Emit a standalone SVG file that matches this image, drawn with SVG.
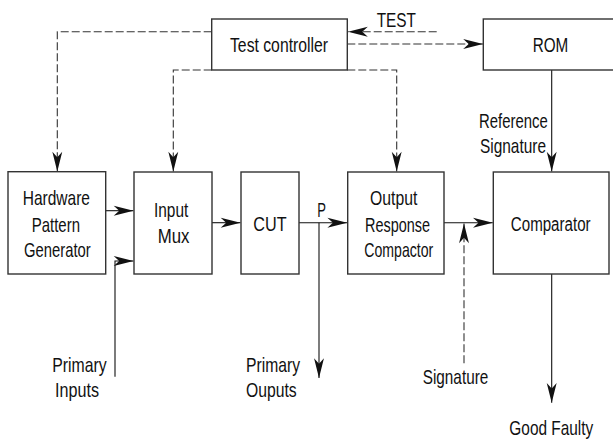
<svg xmlns="http://www.w3.org/2000/svg" width="613" height="439" viewBox="0 0 613 439">
<style>
  .box { fill: #fff; stroke: #333; stroke-width: 1.4; }
  .t { font-family: "Liberation Sans", Arial, sans-serif; font-size: 21px; fill: #111; }
  .m { text-anchor: middle; }
  .ln { fill: none; stroke: #111; stroke-width: 1.1; }
  .dl { fill: none; stroke: #333; stroke-width: 1.1; stroke-dasharray: 8 3; }
</style>
<defs>
  <marker id="ah" markerUnits="userSpaceOnUse" markerWidth="22" markerHeight="12" viewBox="-19 -5 20 10" refX="0" refY="0" orient="auto">
    <path d="M0,0 L-18,-4.5 L-13,0 L-18,4.5 Z" fill="#111"/>
  </marker>
</defs>
<rect width="613" height="439" fill="#fff"/>

<g id="connectors">
  <path class="dl" d="M436.7,31.7 H348" marker-end="url(#ah)"/>
  <path class="dl" d="M347.3,44 H483" marker-end="url(#ah)"/>
  <path class="dl" d="M211.7,31.7 H57.3 V171.5" marker-end="url(#ah)"/>
  <path class="dl" d="M211.7,70 H173.3 V171.5" marker-end="url(#ah)"/>
  <path class="dl" d="M347.3,70 H396.7 V171.5" marker-end="url(#ah)"/>
  <path class="ln" d="M105.7,210.7 H133.5" marker-end="url(#ah)"/>
  <path class="ln" d="M115,376.7 V261 H133.5" marker-end="url(#ah)"/>
  <path class="ln" d="M212,222.7 H240.5" marker-end="url(#ah)"/>
  <path class="ln" d="M299,222.7 H347.2" marker-end="url(#ah)"/>
  <path class="ln" d="M319,222.7 V378" marker-end="url(#ah)"/>
  <path class="ln" d="M444,222.7 H492.8" marker-end="url(#ah)"/>
  <path class="dl" d="M464,363.3 V223.5" marker-end="url(#ah)"/>
  <path class="ln" d="M551.7,70 V171.5" marker-end="url(#ah)"/>
  <path class="ln" d="M551.7,274 V402.7" marker-end="url(#ah)"/>
</g>

<g id="test-controller">
  <rect class="box" x="211.7" y="19" width="135.6" height="51"/>
  <text class="t" x="230" y="51.7" textLength="98" lengthAdjust="spacingAndGlyphs">Test controller</text>
</g>
<g id="test-label">
  <text class="t" x="376.7" y="26.7" textLength="39.3" lengthAdjust="spacingAndGlyphs">TEST</text>
</g>
<g id="rom">
  <rect class="box" x="483.3" y="19" width="140" height="51"/>
  <text class="t" x="532.7" y="51.7" textLength="35.6" lengthAdjust="spacingAndGlyphs">ROM</text>
</g>
<g id="reference-signature-label">
  <text class="t" x="479" y="128" textLength="68.7" lengthAdjust="spacingAndGlyphs">Reference</text>
  <text class="t" x="480" y="153" textLength="66" lengthAdjust="spacingAndGlyphs">Signature</text>
</g>
<g id="hardware-pattern-generator">
  <rect class="box" x="8" y="171.7" width="97.7" height="102.3"/>
  <text class="t" x="22.7" y="205" textLength="67.3" lengthAdjust="spacingAndGlyphs">Hardware</text>
  <text class="t" x="31.7" y="231.7" textLength="48.3" lengthAdjust="spacingAndGlyphs">Pattern</text>
  <text class="t" x="24" y="256.7" textLength="66.7" lengthAdjust="spacingAndGlyphs">Generator</text>
</g>
<g id="input-mux">
  <rect class="box" x="134" y="172" width="78" height="102"/>
  <text class="t" x="154" y="216.7" textLength="34.3" lengthAdjust="spacingAndGlyphs">Input</text>
  <text class="t" x="157.7" y="243.3" textLength="31.7" lengthAdjust="spacingAndGlyphs">Mux</text>
</g>
<g id="cut">
  <rect class="box" x="241" y="172" width="58" height="102"/>
  <text class="t" x="253.3" y="231" textLength="33.3" lengthAdjust="spacingAndGlyphs">CUT</text>
</g>
<g id="p-label">
  <text class="t" x="317.3" y="216.7" textLength="8.7" lengthAdjust="spacingAndGlyphs">P</text>
</g>
<g id="output-response-compactor">
  <rect class="box" x="347.7" y="172" width="96.3" height="102"/>
  <text class="t" x="370" y="205" textLength="47.3" lengthAdjust="spacingAndGlyphs">Output</text>
  <text class="t" x="365" y="231.7" textLength="65" lengthAdjust="spacingAndGlyphs">Response</text>
  <text class="t" x="364.3" y="256.7" textLength="69" lengthAdjust="spacingAndGlyphs">Compactor</text>
</g>
<g id="comparator">
  <rect class="box" x="493.3" y="172" width="115.7" height="102"/>
  <text class="t m" transform="translate(550.7,231) scale(0.72,1)" x="0" y="0">Comparator</text>
</g>
<g id="primary-inputs-label">
  <text class="t" x="52.3" y="371.7" textLength="54.4" lengthAdjust="spacingAndGlyphs">Primary</text>
  <text class="t" x="55" y="396.7" textLength="44" lengthAdjust="spacingAndGlyphs">Inputs</text>
</g>
<g id="primary-outputs-label">
  <text class="t" x="246" y="371.7" textLength="54" lengthAdjust="spacingAndGlyphs">Primary</text>
  <text class="t" x="246" y="396.7" textLength="50.7" lengthAdjust="spacingAndGlyphs">Ouputs</text>
</g>
<g id="signature-label">
  <text class="t" x="422.7" y="384" textLength="65.6" lengthAdjust="spacingAndGlyphs">Signature</text>
</g>
<g id="good-faulty-label">
  <text class="t m" transform="translate(551.3,435) scale(0.734,1)" x="0" y="0">Good Faulty</text>
</g>
</svg>
